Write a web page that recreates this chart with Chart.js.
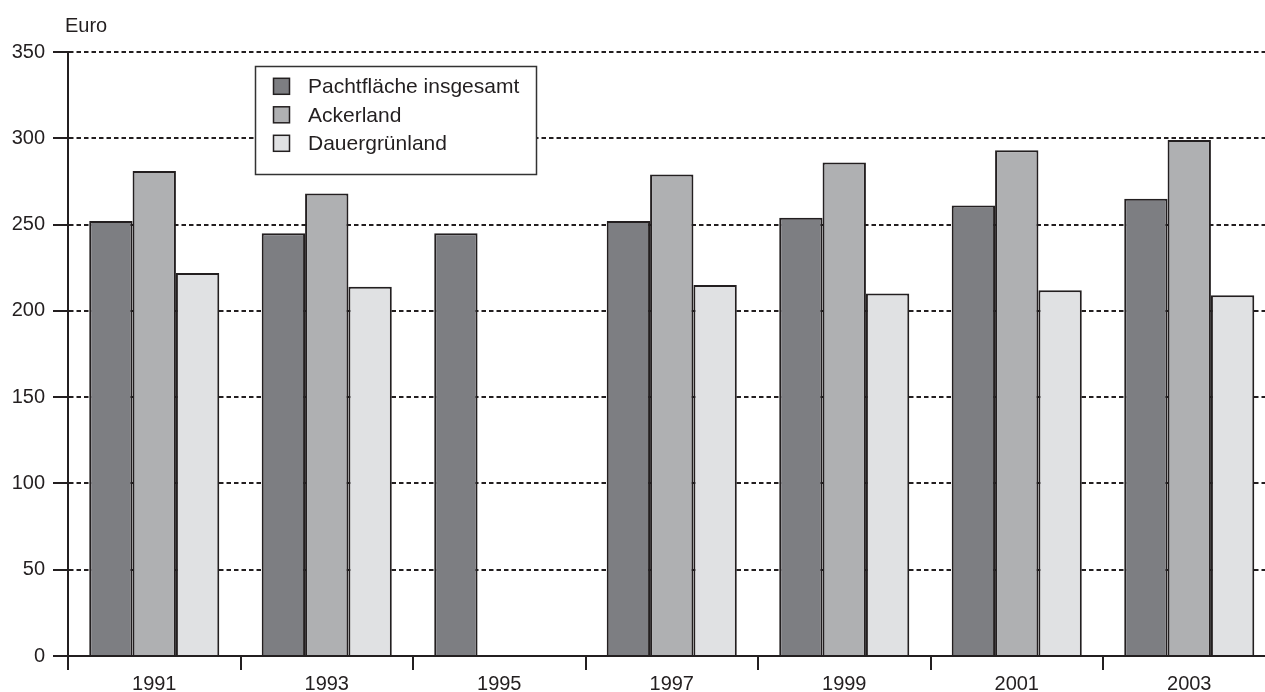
<!DOCTYPE html>
<html>
<head>
<meta charset="utf-8">
<script src="https://cdn.jsdelivr.net/npm/chart.js@4"></script>
<style>
html,body{margin:0;padding:0;background:#fff;overflow:hidden;}
canvas{display:block;}
</style>
</head>
<body>
<canvas id="c" width="1280" height="692"></canvas>
<script>
const categories = ["1991","1993","1995","1997","1999","2001","2003"];
const seriesNames = ["Pachtfläche insgesamt","Ackerland","Dauergrünland"];
const pachtflaeche = [252,245,245,252,254,261,265];
const ackerland = [281,268,null,279,286,293,299];
const dauergruenland = [222,214,null,215,210,212,209];
const yTicks = [0,50,100,150,200,250,300,350];
const unitLabel = "Euro";

const INK = '#231f20';
const FONT = 'Liberation Sans, Arial, Helvetica, sans-serif';
const colors = ['#7d7e82','#afb0b2','#e0e1e3'];

const legendPlugin = {
  id: 'boxLegend',
  afterDraw(chart) {
    const ctx = chart.ctx;
    ctx.save();
    ctx.font = '20px ' + FONT;
    ctx.fillStyle = INK;
    ctx.textAlign = 'left';
    ctx.textBaseline = 'alphabetic';
    ctx.fillText(unitLabel, 65, 32);
    const bx = 255.5, by = 66.5, bw = 281, bh = 108;
    ctx.fillStyle = '#fff';
    ctx.fillRect(bx, by, bw, bh);
    ctx.strokeStyle = '#333';
    ctx.lineWidth = 1.5;
    ctx.strokeRect(bx, by, bw, bh);
    chart.data.datasets.forEach((ds, i) => {
      const cy = 86.3 + i * 28.5;
      ctx.fillStyle = ds.backgroundColor;
      ctx.fillRect(273.5, cy - 8, 16, 16);
      ctx.strokeStyle = INK;
      ctx.lineWidth = 1.5;
      ctx.strokeRect(273.5, cy - 8, 16, 16);
      ctx.fillStyle = INK;
      ctx.font = '21px ' + FONT;
      ctx.textBaseline = 'middle';
      ctx.fillText(ds.label, 308, cy + 1);
    });
    ctx.restore();
  }
};

new Chart(document.getElementById('c'), {
  type: 'bar',
  data: {
    labels: categories,
    datasets: [
      {label: seriesNames[0], data: pachtflaeche, backgroundColor: colors[0]},
      {label: seriesNames[1], data: ackerland, backgroundColor: colors[1]},
      {label: seriesNames[2], data: dauergruenland, backgroundColor: colors[2]}
    ].map(d => Object.assign(d, {borderColor: INK, borderWidth: 2, categoryPercentage: 0.754, barPercentage: 1.0}))
  },
  options: {
    responsive: false,
    animation: false,
    layout: {padding: {top: 52, right: 4.5, left: 0, bottom: 0}},
    plugins: {legend: {display: false}, tooltip: {enabled: false}},
    scales: {
      x: {
        offset: true,
        border: {display: true, color: INK, width: 2},
        grid: {offset: true, drawOnChartArea: false, drawTicks: true, tickLength: 14, color: INK, lineWidth: 2},
        ticks: {color: INK, font: {family: FONT, size: 20}, padding: 2, maxRotation: 0},
        afterFit(scale) { scale.height = 36; }
      },
      y: {
        min: 0, max: 350,
        afterBuildTicks(scale) { scale.ticks = yTicks.map(v => ({value: v})); },
        border: {display: true, color: INK, width: 2, dash: [4.5,3]},
        grid: {color: INK, lineWidth: 2, drawTicks: true, tickLength: 15, tickColor: INK, tickWidth: 2, tickBorderDash: []},
        ticks: {color: INK, font: {family: FONT, size: 20}, padding: 8},
        afterFit(scale) { scale.width = 68; }
      }
    }
  },
  plugins: [legendPlugin]
});
</script>
</body>
</html>
